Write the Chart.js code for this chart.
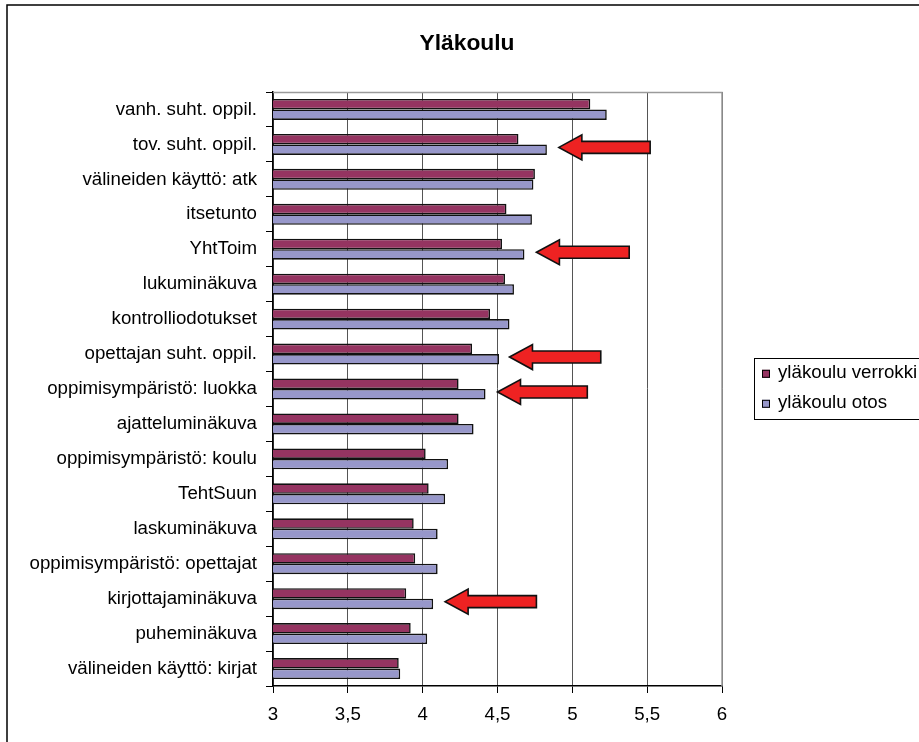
<!DOCTYPE html>
<html>
<head>
<meta charset="utf-8">
<script src="https://cdn.jsdelivr.net/npm/chart.js@4/dist/chart.umd.min.js"></script>
<style>
  html, body { margin: 0; padding: 0; background: #fff; }
  #wrap { position: relative; width: 919px; height: 742px; }
</style>
</head>
<body>
<div id="wrap"><canvas id="myChart" width="919" height="742"></canvas></div>
<script>
var chartTitle = 'Yläkoulu';

var categories = [
    'vanh. suht. oppil.',
    'tov. suht. oppil.',
    'välineiden käyttö: atk',
    'itsetunto',
    'YhtToim',
    'lukuminäkuva',
    'kontrolliodotukset',
    'opettajan suht. oppil.',
    'oppimisympäristö: luokka',
    'ajatteluminäkuva',
    'oppimisympäristö: koulu',
    'TehtSuun',
    'laskuminäkuva',
    'oppimisympäristö: opettajat',
    'kirjottajaminäkuva',
    'puheminäkuva',
    'välineiden käyttö: kirjat'
];

var seriesNames = ['yläkoulu verrokki', 'yläkoulu otos'];

var verrokki = [5.12, 4.64, 4.75, 4.56, 4.53, 4.55, 4.45, 4.33, 4.24, 4.24, 4.02, 4.04, 3.94, 3.95, 3.89, 3.92, 3.84];
var otos     = [5.23, 4.83, 4.74, 4.73, 4.68, 4.61, 4.58, 4.51, 4.42, 4.34, 4.17, 4.15, 4.10, 4.10, 4.07, 4.03, 3.85];

var xTicks = [3, 3.5, 4, 4.5, 5, 5.5, 6];

// red arrows: category, tail value, tip value
var arrowCats = ['tov. suht. oppil.', 'YhtToim', 'opettajan suht. oppil.', 'oppimisympäristö: luokka', 'kirjottajaminäkuva'];
var arrowFrom = [5.52, 5.38, 5.19, 5.10, 4.76];
var arrowTo   = [4.91, 4.76, 4.58, 4.50, 4.15];

var FONT = "'Liberation Sans', Arial, sans-serif";
var colors = ['#953461', '#9797ca'];

var decorations = {
    id: 'decorations',
    beforeDraw: function (chart) {
        var c = chart.ctx;
        c.save();
        c.fillStyle = '#fff';
        c.fillRect(0, 0, chart.width, chart.height);
        // outer frame
        c.strokeStyle = '#000';
        c.lineWidth = 1.5;
        c.beginPath();
        c.moveTo(7, chart.height + 5);
        c.lineTo(7, 5);
        c.lineTo(chart.width + 5, 5);
        c.stroke();
        c.restore();
    },
    afterDraw: function (chart) {
        var c = chart.ctx;
        var area = chart.chartArea;
        var xs = chart.scales.x, ys = chart.scales.y;
        c.save();
        // plot area border top/right
        c.strokeStyle = '#9a9a9a';
        c.lineWidth = 1.5;
        c.beginPath();
        c.moveTo(area.left, area.top + 0.5);
        c.lineTo(area.right, area.top + 0.5);
        c.lineTo(area.right, area.bottom);
        c.stroke();

        // title
        c.fillStyle = '#000';
        c.font = 'bold 22.8px ' + FONT;
        c.textAlign = 'center';
        c.textBaseline = 'alphabetic';
        c.fillText(chartTitle, 467, 49.5);

        // arrows
        c.fillStyle = '#ee2222';
        c.strokeStyle = '#111';
        c.lineWidth = 1.6;
        for (var i = 0; i < arrowCats.length; i++) {
            var yc = ys.getPixelForValue(categories.indexOf(arrowCats[i])) + 3;
            var tail = xs.getPixelForValue(arrowFrom[i]);
            var tip = xs.getPixelForValue(arrowTo[i]);
            var hl = 23, sh = 6, hh = 12.5;
            c.beginPath();
            c.moveTo(tip, yc);
            c.lineTo(tip + hl, yc - hh);
            c.lineTo(tip + hl, yc - sh);
            c.lineTo(tail, yc - sh);
            c.lineTo(tail, yc + sh);
            c.lineTo(tip + hl, yc + sh);
            c.lineTo(tip + hl, yc + hh);
            c.closePath();
            c.fill();
            c.stroke();
        }

        // legend
        c.strokeStyle = '#000';
        c.lineWidth = 1;
        c.strokeRect(754.5, 358.5, 200, 61);
        c.font = '18.7px ' + FONT;
        c.textAlign = 'left';
        c.fillStyle = '#000';
        var rows = [378.3, 408.3];
        for (var k = 0; k < chart.data.datasets.length; k++) {
            var ds = chart.data.datasets[k];
            c.fillStyle = ds.backgroundColor;
            c.fillRect(762, rows[k] - 8.5, 8, 8);
            c.strokeRect(762.5, rows[k] - 8, 7, 7);
            c.fillStyle = '#000';
            c.fillText(ds.label, 778, rows[k]);
        }
        c.restore();
    }
};

var ctx = document.getElementById('myChart').getContext('2d');
var myChart = new Chart(ctx, {
    type: 'bar',
    data: {
        labels: categories,
        datasets: [{
            label: seriesNames[0],
            data: verrokki,
            backgroundColor: colors[0],
            borderColor: '#111',
            borderWidth: 1.6,
            barPercentage: 1,
            categoryPercentage: 0.6
        }, {
            label: seriesNames[1],
            data: otos,
            backgroundColor: colors[1],
            borderColor: '#111',
            borderWidth: 1.6,
            barPercentage: 1,
            categoryPercentage: 0.6
        }]
    },
    options: {
        indexAxis: 'y',
        responsive: false,
        animation: false,
        layout: {
            padding: { left: 0, right: 197, top: 92, bottom: 0 }
        },
        scales: {
            x: {
                type: 'linear',
                min: 3,
                max: 6,
                afterFit: function (scale) { scale.height = 56; },
                afterBuildTicks: function (scale) {
                    scale.ticks = xTicks.map(function (v) { return { value: v }; });
                },
                grid: {
                    color: '#555',
                    lineWidth: 1,
                    tickColor: '#000',
                    tickLength: 7
                },
                border: { color: '#000', width: 1.5 },
                ticks: {
                    color: '#000',
                    padding: 11,
                    font: { family: FONT, size: 18.7 },
                    callback: function (value) { return String(value).replace('.', ','); }
                }
            },
            y: {
                afterFit: function (scale) { scale.width = 273; },
                grid: {
                    drawOnChartArea: false,
                    tickColor: '#000',
                    tickLength: 7,
                    offset: true
                },
                border: { color: '#000', width: 1.5 },
                ticks: {
                    color: '#000',
                    padding: 9,
                    autoSkip: false,
                    font: { family: FONT, size: 18.7 }
                }
            }
        },
        plugins: {
            legend: { display: false },
            title: { display: false },
            tooltip: { enabled: false }
        }
    },
    plugins: [decorations]
});
</script>
</body>
</html>
